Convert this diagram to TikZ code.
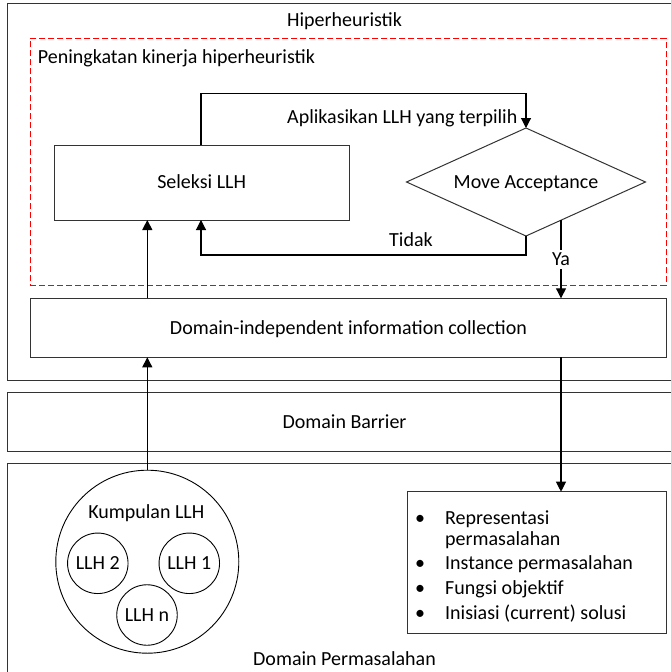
\documentclass[tikz,border=0pt]{standalone}
\usepackage{fontspec}
\setmainfont{Carlito}
\usetikzlibrary{shapes.geometric,arrows.meta,calc}

\begin{document}
\begin{tikzpicture}[x=1pt,y=-1pt,
  frame/.style={draw=black!80, line width=1pt, rectangle, inner sep=0pt, outer sep=0pt, anchor=north west},
  lbl/.style={font=\fontsize{20}{24}\selectfont, inner sep=0pt, text height=12.9pt, text depth=0pt},
  conn/.style={draw=black, line width=1.1pt, -{Triangle[length=10pt,width=10pt]}},
  redframe/.style={draw=red, line width=0.9pt, dash pattern=on 6pt off 3pt, rectangle, inner sep=0pt, outer sep=0pt, anchor=north west},
  ring/.style={draw=black, line width=0.9pt, circle, inner sep=0pt, outer sep=0pt}
]
\useasboundingbox (0,0) rectangle (671,672);

% layer frames
\node[frame, minimum width=675pt, minimum height=376.7pt] (hyper) at (7,3.3) {};
\node[lbl] (hypert) at (344.5,20) {Hiperheuristik};

\node[redframe, minimum width=635.7pt, minimum height=246.7pt] (boost) at (30.3,38.3) {};
\node[lbl, anchor=west] (boostt) at (37.7,56.7) {Peningkatan kinerja hiperheuristik};

\node[frame, minimum width=675pt, minimum height=59pt] (barrier) at (7,392.3) {};
\node[lbl] (barriert) at (344.5,421.8) {Domain Barrier};

\node[frame, minimum width=675pt, minimum height=215pt] (problem) at (7,463.3) {};
\node[lbl] (problemt) at (344.5,659) {Domain Permasalahan};

% inner boxes
\node[frame, minimum width=294.7pt, minimum height=75pt] (sel) at (54.3,145) {};
\node[lbl] (selt) at (sel.center) {Seleksi LLH};

\node[draw=black!80, line width=1pt, diamond, inner sep=0pt, outer sep=0pt,
      minimum width=239pt, minimum height=108pt] (dia) at (526,182) {};
\node[lbl] (diat) at (dia.center) {Move Acceptance};

\node[frame, minimum width=636.4pt, minimum height=59pt] (dic) at (30.3,298.3) {};
\node[lbl] (dict) at (dic.center) {Domain-independent information collection};

% pool of low-level heuristics
\node[ring, minimum size=183pt] (pool) at (147.3,561.7) {};
\node[lbl] (poolt) at (146.3,511.7) {Kumpulan LLH};
\node[ring, minimum size=60.5pt] (h2) at (97.8,563.3) {};
\node[lbl] at (h2.center) {LLH 2};
\node[ring, minimum size=60.5pt] (h1) at (189.3,563.3) {};
\node[lbl] at (h1.center) {LLH 1};
\node[ring, minimum size=60.5pt] (hn) at (147,615) {};
\node[lbl] at (hn.center) {LLH n};

% problem description list
\node[frame, minimum width=259.4pt, minimum height=141.6pt] (info) at (407.3,491.7) {};
\foreach \yy in {518.3,563.3,588.3,613.3}
  \node[lbl] at (420,\yy) {•};
\node[lbl, anchor=west] at (445,518.3) {Representasi};
\node[lbl, anchor=west] at (445,539.3) {permasalahan};
\node[lbl, anchor=west] at (445,563.3) {Instance permasalahan};
\node[lbl, anchor=west] at (445,588.3) {Fungsi objektif};
\node[lbl, anchor=west] at (445,613.3) {Inisiasi (current) solusi};

% connectors
\coordinate (looptop) at (201,93.3);
\coordinate (loopbot) at (201,255);
\coordinate (yes) at ($(dia.south)!0.293!(dia.east)$);
\coordinate (down) at (561,357.3);

\draw[conn] (sel.north -| looptop) -- (looptop) -| (dia.north);
\node[lbl] (applyt) at (402.3,116.7) {Aplikasikan LLH yang terpilih};

\draw[conn] (dia.south) -- (dia.south |- loopbot) -| (sel.south -| loopbot);
\node[lbl] (not) at (411,240) {Tidak};

\draw[conn] (yes) -- node[lbl, fill=white, inner sep=3pt] (ya) {Ya} (yes |- dic.north);

\draw[conn] (pool.north) -- (pool.north |- dic.south);
\draw[conn] (pool.north |- dic.north) -- (pool.north |- sel.south);

\draw[conn] (down) -- (down |- info.north);
\end{tikzpicture}
\end{document}
